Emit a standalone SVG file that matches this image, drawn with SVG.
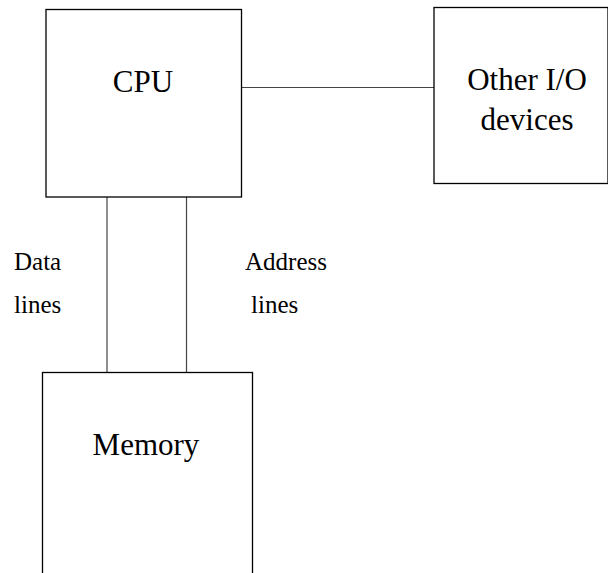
<svg xmlns="http://www.w3.org/2000/svg" width="608" height="573" viewBox="0 0 608 573">
<style>
.box{fill:#fff;stroke:#000;stroke-width:1.3}
.big{font-family:"Liberation Serif",serif;font-size:31px;fill:#000}
.lbl{font-family:"Liberation Serif",serif;font-size:25px;fill:#000}
.con{stroke:#444;stroke-width:1.2;fill:none}
</style>
<rect width="608" height="573" fill="#fff"/>
<g id="connectors">
<line class="con" x1="241" y1="87.5" x2="434" y2="87.5"/>
<line class="con" x1="107" y1="197" x2="107" y2="372.5"/>
<line class="con" x1="186.5" y1="197" x2="186.5" y2="372.5"/>
</g>
<g id="cpu">
<rect class="box" x="46" y="9.5" width="195.5" height="187.5"/>
<text class="big" x="143" y="91.5" text-anchor="middle">CPU</text>
</g>
<g id="io">
<rect class="box" x="434" y="7.5" width="174" height="176"/>
<text class="big" x="527" y="89.5" text-anchor="middle">Other I/O</text>
<text class="big" x="527" y="130" text-anchor="middle">devices</text>
</g>
<g id="memory">
<rect class="box" x="42.5" y="372.5" width="210" height="220"/>
<text class="big" x="146" y="454.5" text-anchor="middle">Memory</text>
</g>
<g id="labels">
<text class="lbl" x="14" y="269.5">Data</text>
<text class="lbl" x="14" y="312.5">lines</text>
<text class="lbl" x="245" y="269.5">Address</text>
<text class="lbl" x="251" y="312.5">lines</text>
</g>
</svg>
